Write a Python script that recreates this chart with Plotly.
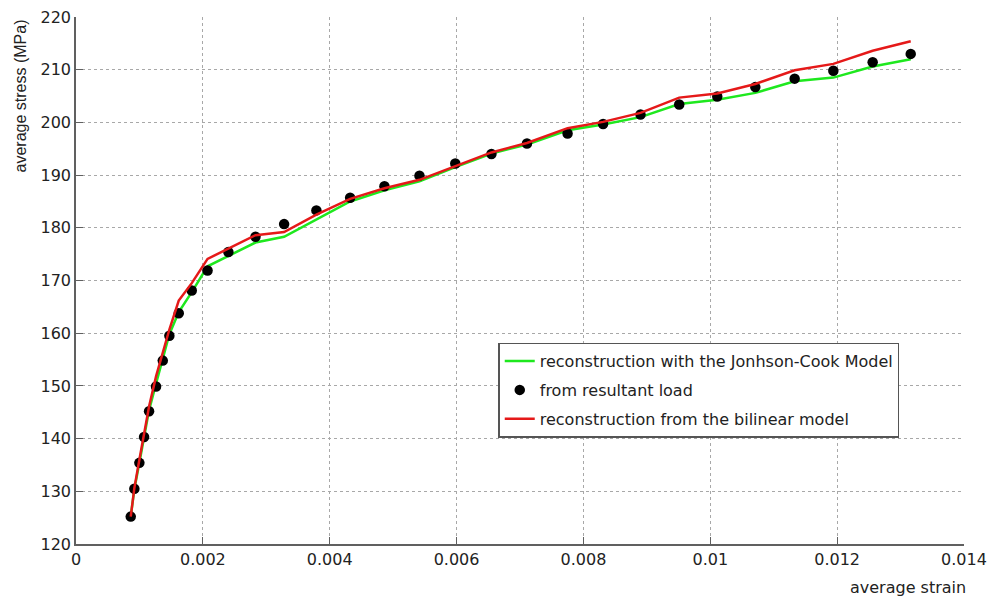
import plotly.graph_objects as go

# ---- data ----
strain = [0.000863, 0.00092, 0.000999, 0.001073, 0.001152, 0.001262, 0.001368,
          0.001472, 0.00162, 0.001825, 0.002074, 0.002402, 0.00283, 0.003281,
          0.00379, 0.004322, 0.004863, 0.005415, 0.00598, 0.00655, 0.00711,
          0.00775, 0.00831, 0.0089, 0.00951, 0.01011, 0.01071, 0.01133,
          0.01194, 0.01256, 0.01316]

stress_measured = [125.2, 130.5, 135.4, 140.3, 145.2, 149.9, 154.8, 159.5, 163.8,
                   168.1, 171.9, 175.4, 178.3, 180.7, 183.3, 185.7, 187.9, 189.9,
                   192.2, 194.0, 196.0, 197.9, 199.7, 201.5, 203.4, 204.9, 206.7,
                   208.3, 209.8, 211.4, 213.0]

stress_johnson_cook = [125.2, 130.4, 135.4, 140.3, 145.4, 150.4, 155.2, 159.8, 164.0,
                       167.8, 172.7, 174.6, 177.2, 178.3, 181.5, 185.0, 187.1, 188.8,
                       191.5, 194.1, 195.8, 198.5, 199.6, 201.0, 203.5, 204.3, 205.6,
                       207.8, 208.5, 210.6, 212.0]

stress_bilinear = [125.2, 130.6, 136.0, 141.1, 146.1, 151.8, 156.5, 160.7, 166.2,
                   169.5, 174.1, 176.0, 178.6, 179.2, 182.5, 185.5, 187.5, 189.1,
                   191.7, 194.3, 196.1, 198.9, 200.1, 201.8, 204.7, 205.5, 207.3,
                   209.9, 211.1, 213.6, 215.4]

names = ["reconstruction with the Jonhson\u2010Cook Model",
         "from resultant load",
         "reconstruction from the bilinear model"]

x_ticks = [0, 0.002, 0.004, 0.006, 0.008, 0.01, 0.012, 0.014]
x_ticklabels = ["0", "0.002", "0.004", "0.006", "0.008", "0.01", "0.012", "0.014"]
y_ticks = [120, 130, 140, 150, 160, 170, 180, 190, 200, 210, 220]

# ---- figure ----
fig = go.Figure()
fig.add_trace(go.Scatter(x=strain, y=stress_johnson_cook, mode="lines",
                         name=names[0], legendgroup="g1",
                         line=dict(color="#1ee81e", width=2.5)))
fig.add_trace(go.Scatter(x=strain, y=stress_measured, mode="markers",
                         name=names[1], legendgroup="g2",
                         marker=dict(color="black", size=10.5)))
fig.add_trace(go.Scatter(x=strain, y=stress_bilinear, mode="lines",
                         name=names[2], legendgroup="g3",
                         line=dict(color="#e51919", width=2.5)))

axis_common = dict(showline=True, linecolor="#606060", linewidth=1.5,
                   ticks="inside", ticklen=7, tickcolor="#606060", tickwidth=1,
                   showgrid=True, gridcolor="#a8a8a8", griddash="dot", gridwidth=1,
                   zeroline=False, automargin=False, ticklabeloverflow="allow",
                   tickfont=dict(family="DejaVu Sans", size=16, color="#222222"))

fig.update_xaxes(range=[0, 0.014], tickvals=x_ticks, ticktext=x_ticklabels,
                 **axis_common)
fig.update_yaxes(range=[120, 220], tickvals=y_ticks, **axis_common)

fig.add_annotation(text="average stress (MPa)", textangle=-90,
                   xref="paper", yref="paper", x=-0.062, y=1.0,
                   xanchor="center", yanchor="top", showarrow=False,
                   font=dict(family="Liberation Sans", size=16, color="#222222"))
fig.add_annotation(text="average strain",
                   xref="paper", yref="paper", x=1.004, y=-0.083,
                   xanchor="right", yanchor="middle", showarrow=False,
                   font=dict(family="DejaVu Sans", size=16, color="#222222"))

# the page body adds an 8px offset, so the figure is 990x590
fig.update_layout(
    width=990, height=590,
    margin=dict(l=68, r=34, t=9, b=54, autoexpand=False),
    paper_bgcolor="white", plot_bgcolor="white",
    font=dict(family="DejaVu Sans", size=16, color="#222222"),
    legend=dict(x=0.4755, y=0.382, xanchor="left", yanchor="top",
                bgcolor="white", bordercolor="#555555", borderwidth=1.5,
                traceorder="grouped", tracegroupgap=5,
                font=dict(family="DejaVu Sans", size=16, color="#222222")),
)

fig.write_html("out.html")
